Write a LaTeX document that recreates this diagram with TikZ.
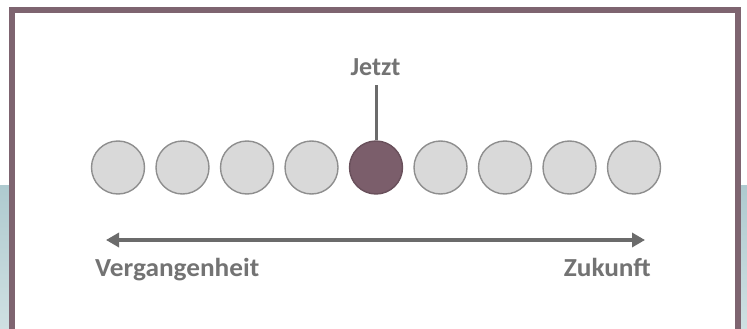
\documentclass[tikz,border=0pt]{standalone}
\usepackage{fontspec}
\setmainfont{Carlito}
\usetikzlibrary{arrows.meta}
\definecolor{frameclr}{HTML}{7E6470}
\definecolor{nowclr}{HTML}{7B5E6B}
\definecolor{dotfill}{HTML}{D9D9D9}
\definecolor{dotline}{HTML}{8E8E8E}
\definecolor{txtclr}{HTML}{737373}
\definecolor{axisclr}{HTML}{6B6B6B}
\definecolor{bandtop}{HTML}{AECACF}
\definecolor{bandbot}{HTML}{CFE0E2}
\begin{document}
\begin{tikzpicture}[x=1pt,y=-1pt,
  dot/.style={circle,draw=dotline,fill=dotfill,line width=1.4pt,minimum size=53pt,inner sep=0pt},
  nowdot/.style={dot,fill=nowclr,draw=nowclr!85!black},
  lbl/.style={font=\bfseries\fontsize{26}{26}\selectfont,text=txtclr,inner sep=0pt}]
  \useasboundingbox (0,0) rectangle (747,329);
  % backdrop bands beside the frame
  \fill[white] (0,0) rectangle (747,329);
  \shade[top color=bandtop,bottom color=bandbot] (0,185) rectangle (10,329);
  \shade[top color=bandtop,bottom color=bandbot] (740,185) rectangle (747,329);
  % frame
  \fill[white] (12,10) rectangle (738,335);
  \draw[frameclr,line width=6pt] (12,335) -- (12,10) -- (738,10) -- (738,335);
  % timeline dots
  \foreach \i in {0,...,8} {
    \ifnum\i=4
      \node[nowdot] (d\i) at (118+64.5*\i,167.5) {};
    \else
      \node[dot] (d\i) at (118+64.5*\i,167.5) {};
    \fi
  }
  % present marker
  \node[lbl,anchor=base] (jetzt) at (375.5,76) {Jetzt};
  \draw[axisclr,line width=3pt] (d4.north) -- ++(0,-55) coordinate (jt);
  % time axis
  \coordinate (pastend) at (106,240);
  \coordinate (futend) at (645,240);
  \draw[axisclr,line width=3.6pt,{Triangle[length=13pt,width=14pt]}-{Triangle[length=13pt,width=14pt]}] (pastend) -- (futend);
  \node[lbl,anchor=base west,xscale=1.05] (past) at (95,276) {Vergangenheit};
  \node[lbl,anchor=base east,xscale=1.05] (future) at (651,276) {Zukunft};
\end{tikzpicture}
\end{document}
